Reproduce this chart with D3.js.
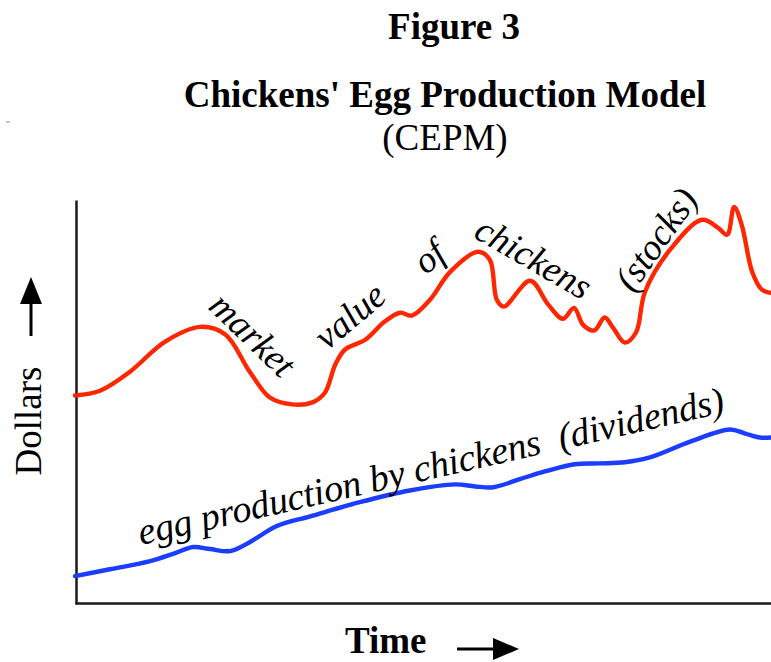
<!DOCTYPE html>
<html>
<head>
<meta charset="utf-8">
<script src="https://cdn.jsdelivr.net/npm/d3@7"></script>
<style>
  body { margin: 0; background: #fff; }
  text { font-family: "Liberation Serif", "Times New Roman", serif; fill: #000; }
</style>
</head>
<body>
<div id="chart"></div>
<script>
// Market value of chickens (stocks) - time 0..100, dollars 0..100
const stockTime = [0, 3.6, 7.9, 12.9, 18.0, 21.6, 25.1, 28.0, 31.2, 34.1, 35.9, 37.4, 38.8, 41.7, 44.5, 46.7, 48.4, 51.0, 53.9, 57.9, 59.6, 60.6, 61.6, 65.4, 68.0, 70.1, 71.7, 73.0, 74.6, 76.1, 77.3, 79.0, 80.6, 81.9, 85.5, 90.1, 92.4, 93.7, 94.7, 95.8, 97.3, 98.7, 100];
const stockValue = [51.6, 52.8, 57.5, 64.9, 68.6, 66.7, 57.5, 51.1, 49.4, 49.9, 52.3, 59.3, 63.0, 65.4, 69.9, 72.1, 71.4, 75.3, 82.2, 87.2, 85.2, 75.3, 73.6, 80.0, 74.1, 70.6, 73.3, 69.1, 67.7, 70.9, 68.4, 64.7, 67.2, 77.3, 87.7, 95.1, 93.1, 91.4, 98.3, 93.8, 82.2, 77.8, 77.0];

// Egg production by chickens (dividends)
const dividendTime = [0, 5.0, 10.8, 14.4, 17.0, 19.4, 22.3, 25.1, 29.0, 33.8, 40.9, 48.1, 54.6, 57.5, 60.1, 63.9, 67.5, 71.8, 75.4, 79.0, 82.6, 88.4, 94.1, 96.3, 98.4, 100];
const dividendValue = [6.9, 8.6, 10.6, 12.6, 14.1, 13.6, 13.1, 15.3, 19.3, 21.7, 25.2, 28.1, 29.6, 29.1, 28.9, 30.9, 32.8, 34.6, 34.8, 35.1, 36.3, 40.2, 43.2, 42.2, 41.2, 41.2];

const stockWords = ["market", "value", "of", "chickens", "(stocks)"];
const dividendText = "egg production by chickens\u00a0\u00a0(dividends)";
const titleLines = ["Figure 3", "Chickens' Egg Production Model", "(CEPM)"];

const width = 771, height = 662;
const margin = { top: 200, right: 0, bottom: 57, left: 76 };

const svg = d3.select("#chart").append("svg")
  .attr("width", width)
  .attr("height", height);

const x = d3.scaleLinear().domain([0, 100]).range([margin.left - 1, width]);
const y = d3.scaleLinear().domain([0, 100]).range([height - margin.bottom - 1, margin.top]);

// titles
svg.append("text").attr("x", 454).attr("y", 39).attr("text-anchor", "middle")
  .attr("font-size", 37).attr("font-weight", "bold").text(titleLines[0]);
svg.append("text").attr("x", 445).attr("y", 107).attr("text-anchor", "middle")
  .attr("font-size", 37).attr("font-weight", "bold").text(titleLines[1]);
svg.append("text").attr("x", 445).attr("y", 150).attr("text-anchor", "middle")
  .attr("font-size", 37).text(titleLines[2]);

// stray mark at the left edge
svg.append("line").attr("x1", 6).attr("x2", 10).attr("y1", 122).attr("y2", 122)
  .attr("stroke", "#888").attr("stroke-width", 1);

// axes without ticks
const yAxis = d3.axisLeft(y).tickValues([]).tickSizeOuter(0);
const xAxis = d3.axisBottom(x).tickValues([]).tickSizeOuter(0);
svg.append("g").attr("transform", `translate(${margin.left},0)`).call(yAxis)
  .call(g => g.select(".domain").attr("stroke", "#1a1a1a").attr("stroke-width", 2.5));
svg.append("g").attr("transform", `translate(0,${y(0) - 1})`).call(xAxis)
  .call(g => g.select(".domain").attr("stroke", "#1a1a1a").attr("stroke-width", 2.5));

// curves
const line = d3.line()
  .x(d => x(d[0]))
  .y(d => y(d[1]))
  .curve(d3.curveCatmullRom.alpha(0.5));

svg.append("path")
  .datum(stockTime.map((t, i) => [t, stockValue[i]]))
  .attr("d", line)
  .attr("fill", "none")
  .attr("stroke", "#ff2600")
  .attr("stroke-width", 4.4)
  .attr("stroke-linecap", "round")
  .attr("stroke-linejoin", "round");

svg.append("path")
  .datum(dividendTime.map((t, i) => [t, dividendValue[i]]))
  .attr("d", line)
  .attr("fill", "none")
  .attr("stroke", "#1a3dff")
  .attr("stroke-width", 4.4)
  .attr("stroke-linecap", "round")
  .attr("stroke-linejoin", "round");

// word placement along the red curve (layout, in chart units)
const wordSpots = [
  { t: 25.4, v: 66.4, rot: 44 },
  { t: 39.6, v: 71.1, rot: -40 },
  { t: 51.0, v: 85.7, rot: -40 },
  { t: 65.8, v: 85.4, rot: 30 },
  { t: 83.6, v: 90.1, rot: -55 }
];

svg.append("g").selectAll("text")
  .data(stockWords)
  .join("text")
  .attr("transform", (d, i) => `translate(${x(wordSpots[i].t)},${y(wordSpots[i].v)}) rotate(${wordSpots[i].rot})`)
  .attr("dy", "0.3em")
  .attr("text-anchor", "middle")
  .attr("font-size", 37)
  .attr("font-style", "italic")
  .text(d => d);

svg.append("text")
  .attr("transform", `translate(${x(9.5)},${y(14.6)}) rotate(-12.8)`)
  .attr("font-size", 38)
  .attr("font-style", "italic")
  .attr("textLength", 600)
  .attr("lengthAdjust", "spacing")
  .text(dividendText);

// axis labels
svg.append("text")
  .attr("transform", "translate(41,421) rotate(-90)")
  .attr("text-anchor", "middle")
  .attr("font-size", 37)
  .text("Dollars");

svg.append("text")
  .attr("x", 345).attr("y", 653)
  .attr("font-size", 37).attr("font-weight", "bold")
  .text("Time");

// arrows
svg.append("line").attr("x1", 457).attr("x2", 496).attr("y1", 649).attr("y2", 649)
  .attr("stroke", "#000").attr("stroke-width", 3);
svg.append("path").attr("d", "M493,638L493,660L519,649Z").attr("fill", "#000");

svg.append("line").attr("x1", 31).attr("x2", 31).attr("y1", 336).attr("y2", 300)
  .attr("stroke", "#000").attr("stroke-width", 3);
svg.append("path").attr("d", "M20,304L42,304L31,277Z").attr("fill", "#000");
</script>
</body>
</html>
